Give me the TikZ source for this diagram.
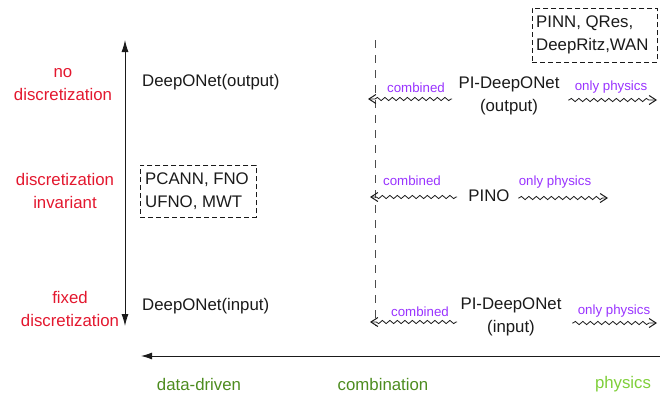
\documentclass[tikz,border=0pt]{standalone}
\usepackage{fontspec}
\setmainfont{Liberation Sans}
\usetikzlibrary{arrows.meta,decorations.pathmorphing}
\definecolor{dred}{HTML}{E3172E}
\definecolor{dpurple}{HTML}{9933FF}
\definecolor{dgreen}{HTML}{4D8C1F}
\definecolor{lgreen}{HTML}{7FCF3A}
\definecolor{ink}{HTML}{1A1A1A}
\begin{document}
\begin{tikzpicture}[x=1pt,y=-1pt,
  txt/.style={font=\fontsize{16.8}{23}\selectfont, inner sep=0pt, align=center, text=ink},
  redlab/.style={txt, text=dred},
  greenlab/.style={txt, text=dgreen},
  purplab/.style={font=\fontsize{13.3}{16}\selectfont, inner sep=0pt, text=dpurple},
  dbox/.style={draw=ink, dashed, dash pattern=on 5pt off 3pt, line width=0.9pt},
  axis/.style={line width=0.9pt, draw=ink},
  bigtip/.tip={Latex[length=12pt,width=7pt]},
  wavy/.style={line width=0.8pt, draw=ink, decorate, decoration={snake, amplitude=1.6pt, segment length=7.5pt, pre length=1pt, post length=5pt}},
  wtip/.style={-{Straight Barb[length=7pt,width=9pt,line width=1pt]}}
]
\useasboundingbox (0,0) rectangle (660,397);

% axes
\coordinate (vtop) at (125,40);
\coordinate (vbot) at (125,326);
\draw[axis, bigtip-bigtip] (vtop) -- (vbot);
\coordinate (hleft) at (141,356);
\coordinate (hright) at (660,356);
\draw[axis, -{Latex[length=11pt,width=7pt]}] (hright) -- (hleft);

% dashed divider
\coordinate (dtop) at (375,40);
\coordinate (dbot) at (375,326);
\draw[dashed, dash pattern=on 8pt off 7pt, line width=1pt, black!70] (dtop) -- (dbot);

% left red labels
\node[redlab] (nod) at (63,85) {no\\discretization};
\node[redlab] (inv) at (65,191) {discretization\\invariant};
\node[redlab] (fix) at (70,309) {fixed\\discretization};

% data-driven column
\node[txt, anchor=west] (dout) at (142,82) {DeepONet(output)};
\node[txt, anchor=west] (din) at (142,306) {DeepONet(input)};
\node[dbox, minimum width=116pt, minimum height=52pt, anchor=north west] (pbox) at (140,165) {};
\node[txt, align=left, anchor=west] (ptxt) at (145,191) {PCANN, FNO\\UFNO, MWT};

% top-right box
\node[dbox, minimum width=125pt, minimum height=54pt, anchor=north west] (tbox) at (532,8) {};
\node[txt, align=left, anchor=west] (ttxt) at (536,35) {PINN, QRes,\\DeepRitz,WAN};

% physics-informed nodes
\node[txt] (pio) at (509,96) {PI-DeepONet\\(output)};
\node[txt] (pino) at (489,196) {PINO};
\node[txt] (pii) at (511,317) {PI-DeepONet\\(input)};

% row 1
\coordinate (c1a) at (452,99);
\coordinate (c1b) at (368,99);
\draw[wavy, wtip] (c1a) -- (c1b);
\node[purplab] (c1l) at (416,88) {combined};
\coordinate (p1a) at (568,100);
\coordinate (p1b) at (657,100);
\draw[wavy, wtip] (p1a) -- (p1b);
\node[purplab] (p1l) at (611,87) {only physics};

% row 2
\coordinate (c2a) at (457,197);
\coordinate (c2b) at (370,197);
\draw[wavy, wtip] (c2a) -- (c2b);
\node[purplab] (c2l) at (412,181) {combined};
\coordinate (p2a) at (518,198);
\coordinate (p2b) at (608,198);
\draw[wavy, wtip] (p2a) -- (p2b);
\node[purplab] (p2l) at (555,182) {only physics};

% row 3
\coordinate (c3a) at (457,322);
\coordinate (c3b) at (370,322);
\draw[wavy, wtip] (c3a) -- (c3b);
\node[purplab] (c3l) at (420,312) {combined};
\coordinate (p3a) at (572,323);
\coordinate (p3b) at (657,323);
\draw[wavy, wtip] (p3a) -- (p3b);
\node[purplab] (p3l) at (614,311) {only physics};

% bottom labels
\node[greenlab] (dd) at (199,384) {data-driven};
\node[greenlab] (cb) at (383,384) {combination};
\node[txt, text=lgreen] (ph) at (623,384) {physics};
\end{tikzpicture}
\end{document}
